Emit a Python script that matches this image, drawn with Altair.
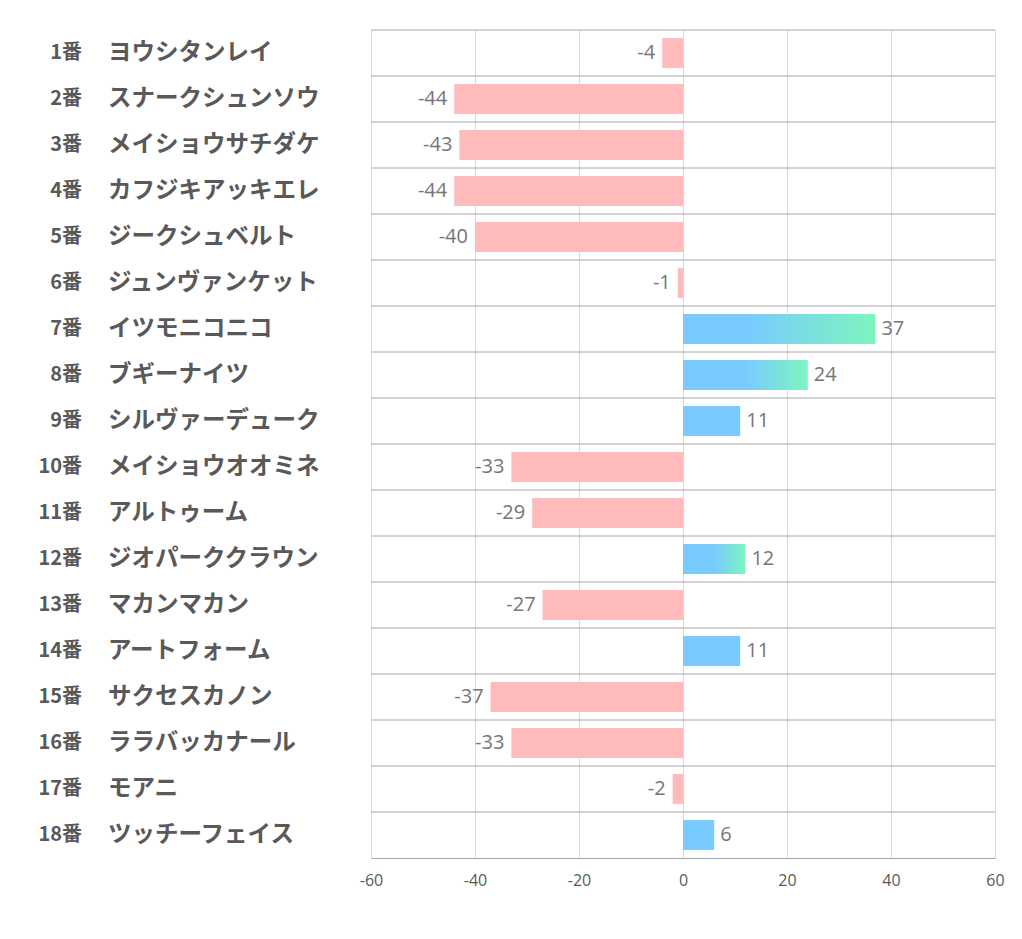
import altair as alt
import pandas as pd

nums = list(range(1, 19))
names = ["ヨウシタンレイ", "スナークシュンソウ", "メイショウサチダケ", "カフジキアッキエレ",
         "ジークシュベルト", "ジュンヴァンケット", "イツモニコニコ", "ブギーナイツ",
         "シルヴァーデューク", "メイショウオオミネ", "アルトゥーム", "ジオパーククラウン",
         "マカンマカン", "アートフォーム", "サクセスカノン", "ララバッカナール",
         "モアニ", "ツッチーフェイス"]
values = [-4, -44, -43, -44, -40, -1, 37, 24, 11, -33, -29, 12, -27, 11, -37, -33, -2, 6]
x_ticks = [-60, -40, -20, 0, 20, 40, 60]

labels = [f"{n}番" for n in nums]
df = pd.DataFrame({"num": nums, "label": labels, "name": names, "value": values, "zero": 0})

PINK = "#FFBBBB"
BLUE = "#79CBFF"
GREEN = "#7DF5BE"
# gradient start (fraction of bar length) for the gradient-filled bars
gradient_bars = {7: 0.33, 8: 0.5, 12: 0.5}

y_enc = alt.Y("label:N", sort=labels, title=None,
              scale=alt.Scale(paddingInner=0.35, paddingOuter=0.175),
              axis=alt.Axis(labels=False, ticks=False, domain=False, grid=False))
x_enc = alt.X("value:Q", title=None,
              scale=alt.Scale(domain=[-60, 60], nice=False),
              axis=alt.Axis(values=x_ticks, grid=True, gridColor="#D9D9D9", ticks=False,
                            domainColor="#A6A6A6", labelColor="#595959", labelFontSize=16,
                            labelFont="Open Sans", labelPadding=14, labelFlush=False,
                            labelExpr="'' + datum.value"))

base = alt.Chart(df).transform_calculate(vtxt="'' + datum.value")

rows = base.mark_rule(color="#A6A6A6", strokeWidth=1, yOffset=-23).encode(y=y_enc)

neg = base.transform_filter("datum.value < 0").mark_bar(color=PINK).encode(
    y=y_enc, x=x_enc, x2="zero:Q")
solid_nums = [n for n, v in zip(nums, values) if v > 0 and n not in gradient_bars]
pos = base.transform_filter(alt.FieldOneOfPredicate(field="num", oneOf=solid_nums)).mark_bar(
    color=BLUE).encode(y=y_enc, x=x_enc, x2="zero:Q")

layers = [rows, neg, pos]
for n, start in gradient_bars.items():
    grad = alt.Gradient(gradient="linear", x1=0, x2=1, y1=0, y2=0,
                        stops=[alt.GradientStop(offset=0, color=BLUE),
                               alt.GradientStop(offset=start, color=BLUE),
                               alt.GradientStop(offset=1, color=GREEN)])
    layers.append(base.transform_filter(f"datum.num == {n}").mark_bar(color=grad).encode(
        y=y_enc, x=x_enc, x2="zero:Q"))

txt_style = dict(fontSize=20, color="#767676", font="Open Sans", baseline="middle")
neg_txt = base.transform_filter("datum.value < 0").mark_text(align="right", dx=-7, **txt_style).encode(
    y=y_enc, x=x_enc, text="vtxt:N")
pos_txt = base.transform_filter("datum.value > 0").mark_text(align="left", dx=6, **txt_style).encode(
    y=y_enc, x=x_enc, text="vtxt:N")

num_txt = base.mark_text(align="right", baseline="middle", fontSize=20, fontWeight="bold",
                         color="#595959", font="Noto Sans CJK JP").encode(
    y=y_enc, x=alt.value(-289), text="label:N")
name_txt = base.mark_text(align="left", baseline="middle", fontSize=23.5, fontWeight="bold",
                          color="#595959", font="Noto Sans CJK JP").encode(
    y=y_enc, x=alt.value(-263), text="name:N")

chart = alt.layer(*layers, neg_txt, pos_txt, num_txt, name_txt).properties(
    width=624, height=828,
    autosize=alt.AutoSizeParams(type="none"),
    padding={"left": 363, "top": 22, "right": 19, "bottom": 73},
).configure_view(strokeWidth=0)

chart.save("out.html", embed_options={"renderer": "svg", "actions": False})
